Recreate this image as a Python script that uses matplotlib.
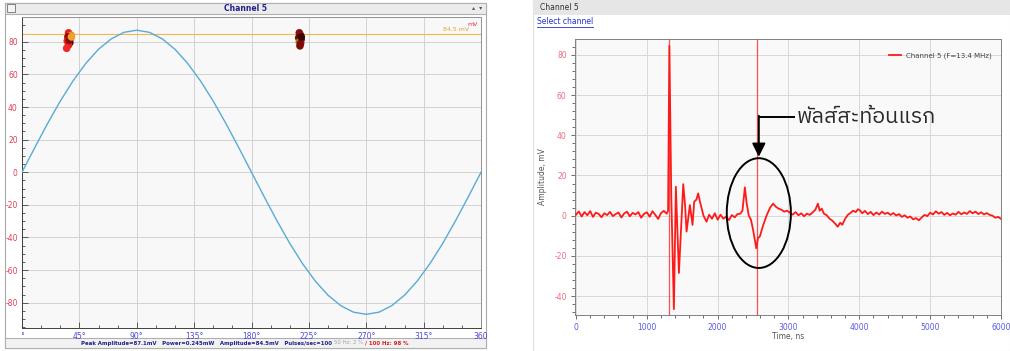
import matplotlib
matplotlib.use('Agg')
import matplotlib.pyplot as plt
from matplotlib import font_manager
from matplotlib.ft2font import FT2Font
from matplotlib.patches import Rectangle, Ellipse
from matplotlib.lines import Line2D
from matplotlib.ticker import MultipleLocator

plt.rcParams['axes.unicode_minus'] = False

# ---------------- left panel : phase sweep ----------------
phase_deg = [0, 10, 20, 30, 40, 50, 60, 70, 80, 90, 100, 110, 120, 130, 140, 150, 160, 170, 180,
             190, 200, 210, 220, 230, 240, 250, 260, 270, 280, 290, 300, 310, 320, 330, 340, 350, 360]
sine_mv = [0.0, 15.1, 29.8, 43.6, 56.0, 66.7, 75.4, 81.8, 85.8, 87.1, 85.8, 81.8, 75.4, 66.7, 56.0, 43.6, 29.8, 15.1, 0.0,
           -15.1, -29.8, -43.6, -56.0, -66.7, -75.4, -81.8, -85.8, -87.1, -85.8, -81.8, -75.4, -66.7, -56.0, -43.6, -29.8, -15.1, 0.0]
level_mv = 84.5

dots_deg = [36.5, 38.5, 36.0, 38.0, 35.5, 37.5, 36.5, 35.0, 37.0, 38.8,
            217.5, 218.5, 217.0, 219.0, 217.5, 218.5, 218.0, 219.0]
dots_mv = [85.5, 84.0, 83.0, 82.0, 80.5, 79.5, 78.0, 76.0, 81.0, 83.0,
           85.5, 84.0, 82.5, 81.5, 80.0, 79.0, 77.5, 83.0]
dots_col = ['#e82020', '#f08a20', '#8b0a0a', '#e02020', '#e82020', '#3a0505', '#e02020', '#f02828', '#8b0a0a', '#f0a030',
            '#8b0a0a', '#900c0c', '#7a0808', '#8b0a0a', '#7a8a20', '#8b0a0a', '#800808', '#3a0505']

x1_ticks = [0, 45, 90, 135, 180, 225, 270, 315, 360]
x1_labels = ['°', '45°', '90°', '135°', '180°', '225°', '270°', '315°', '360']

# ---------------- right panel : echo signal ----------------
t_base = list(range(0, 1320, 40))
a_base = [0.5, 2.1, -0.4, 1.8, 0.2, 2.3, -0.6, 1.5, 0.9, -0.8, 1.2, 0.3, 1.9, -0.2, 0.8, 1.6, -0.9,
          1.1, 2.0, -0.3, 1.4, 0.6, 1.8, -1.0, 0.9, 1.7, -0.5, 2.2, 0.4, -1.6, 1.3, 2.4, 1.0]
t_pulse = [1300, 1318, 1345, 1382, 1410, 1453, 1514, 1540, 1561, 1608, 1645, 1669, 1700, 1725, 1750,
           1773, 1800, 1843, 1880, 1920, 1960, 2000, 2040, 2080, 2120, 2160, 2200, 2240, 2280, 2320,
           2350, 2384, 2410, 2440, 2470, 2500, 2530, 2545, 2570, 2595, 2640, 2690, 2740, 2783, 2820,
           2860, 2900, 2940, 2980]
a_pulse = [2.5, 84.5, 10.0, -46.5, 14.4, -28.5, 15.7, 5.0, -7.9, 5.3, -4.6, 7.0, 8.0, 11.1, 7.0,
           3.7, 0.0, -3.0, 0.5, -1.5, 1.2, -2.0, 0.5, -1.5, -0.5, -2.2, 0.3, -0.8, 0.8, 1.0,
           2.5, 14.1, 6.0, 0.0, -2.0, -7.0, -13.0, -16.2, -11.0, -10.4, -5.0, 0.0, 4.0, 6.0, 4.5,
           3.5, 3.0, 2.0, 2.5]
t_tail = [3020, 3060, 3100, 3140, 3180, 3220, 3260, 3300, 3340, 3380, 3415, 3440, 3470, 3500, 3540,
          3580, 3620, 3660, 3695, 3730, 3760, 3800, 3840, 3880, 3911, 3950, 3980, 4005] + list(range(4040, 6001, 40))
a_tail = [1.5, 0.5, 1.8, 0.2, 1.2, -0.3, 1.0, 0.4, 1.6, 3.0, 6.0, 2.5, 3.5, 1.0, 0.2,
          -1.5, -2.5, -4.0, -5.5, -3.5, -4.5, -1.5, 0.5, 1.5, 2.5, 1.8, 3.2, 2.8,
          1.2, 2.4, 0.8, 1.9, 0.3, 1.6, 0.6, 2.0, 0.9, 1.5, 0.4, 1.3, 0.1, 0.8, -0.6, 0.2, -1.0,
          -0.4, -1.8, -1.2, -2.3, -0.9, 0.4, -0.2, 1.5, 0.6, 2.2, 1.0, 1.8, 0.4, 1.4, 0.2, 1.1,
          0.5, 1.9, 0.7, 1.6, 0.9, 2.3, 1.2, 2.0, 0.8, 1.7, 0.6, 1.3, 0.4, 0.0, -1.0, -0.6, -1.6]
time_ns = t_base + t_pulse + t_tail
amp_mv = a_base + a_pulse + a_tail
cursor_ns = [1316, 2553]

note_text = 'พัลส์สะท้อนแรก'

# font that has Thai glyphs
thai_font = 'DejaVu Sans'
for f in font_manager.fontManager.ttflist:
    try:
        if FT2Font(f.fname).get_char_index(0x0E1E):
            thai_font = f.name
            if 'Thai' in f.name:
                break
    except Exception:
        pass

W, H = 1010, 351
fig = plt.figure(figsize=(W / 100, H / 100), dpi=100)


def box(x0, y0, x1, y1, fc, ec='none', lw=0.8, z=-2):
    fig.add_artist(Rectangle((x0 / W, 1 - y1 / H), (x1 - x0) / W, (y1 - y0) / H,
                             transform=fig.transFigure, fc=fc, ec=ec, lw=lw, zorder=z))


# left window chrome
box(5, 3, 486, 348, '#ffffff', '#a8a8a8')
box(5, 3, 486, 14, '#ececec', '#b0b0b0')
box(7, 4, 15, 12, '#f4f4f4', '#707070', lw=0.6)
box(5, 338, 486, 348, '#f2f2f2', '#b0b0b0')
fig.text(245 / W, 1 - 8.5 / H, 'Channel 5', color='#20208a', fontsize=5.5, fontweight='bold', ha='center', va='center')
fig.text(477 / W, 1 - 8.5 / H, '▴  ▾', color='#555555', fontsize=4.5, ha='center', va='center')

ax1 = fig.add_axes([22 / W, 1 - 328 / H, 459 / W, 311 / H])
ax1.set_facecolor('#f8f8f8')
ax1.plot(phase_deg, sine_mv, color='#5aaad8', lw=1.0, zorder=3)
ax1.axhline(level_mv, color='#f0b850', lw=0.8, zorder=2)
ax1.scatter(dots_deg, dots_mv, s=30, c=dots_col, linewidths=0, zorder=4)
ax1.set_xlim(0, 360)
ax1.set_ylim(-95.5, 95.2)
ax1.set_xticks(x1_ticks)
ax1.set_xticklabels(x1_labels)
ax1.set_yticks(range(-80, 81, 20))
ax1.xaxis.set_minor_locator(MultipleLocator(15))
ax1.yaxis.set_minor_locator(MultipleLocator(5))
ax1.tick_params(which='both', direction='in', width=0.6, color='#444444', labelsize=5.5, pad=3)
ax1.tick_params(which='major', length=4)
ax1.tick_params(which='minor', length=2)
ax1.tick_params(axis='x', labelcolor='#4a4ad8')
ax1.tick_params(axis='y', labelcolor='#e0405a')
ax1.grid(True, which='major', color='#d2d2d2', lw=0.7)
ax1.set_axisbelow(True)
for s in ax1.spines.values():
    s.set_color('#909090')
    s.set_linewidth(0.7)
ax1.spines['left'].set_color('#404040')
ax1.spines['bottom'].set_color('#404040')
ax1.text(0.992, 0.985, 'mV', transform=ax1.transAxes, color='#e03040', fontsize=4.5, ha='right', va='top')
ax1.text(0.975, level_mv + 1.2, '84.5 mV', transform=ax1.get_yaxis_transform(), color='#e8a030',
         fontsize=4.5, ha='right', va='bottom')

fig.text(81 / W, 1 - 343 / H, 'Peak Amplitude=87.1mV   Power=0.245mW   Amplitude=84.5mV   Pulses/sec=100',
         color='#20208a', fontsize=3.9, fontweight='bold', ha='left', va='center')
fig.text(334 / W, 1 - 343 / H, '50 Hz: 2 %', color='#a0a0b0', fontsize=3.9, ha='left', va='center')
fig.text(365 / W, 1 - 343 / H, '/ 100 Hz: 98 %', color='#d02020', fontsize=3.9, fontweight='bold', ha='left', va='center')

# right window chrome
box(533, 0, 1010, 351, '#ffffff', '#e0e0e0')
box(533, 0, 1010, 15, '#e6e6e6', 'none')
fig.text(540 / W, 1 - 8 / H, 'Channel 5', color='#303030', fontsize=5.5, ha='left', va='center')
fig.text(537 / W, 1 - 22 / H, 'Select channel', color='#2030d0', fontsize=5.5, ha='left', va='center')
fig.add_artist(Line2D([537 / W, 593 / W], [1 - 26.5 / H, 1 - 26.5 / H], color='#2030d0', lw=0.6,
                      transform=fig.transFigure))

ax2 = fig.add_axes([575 / W, 1 - 315 / H, 426 / W, 276 / H])
ax2.set_facecolor('#f9f9f9')
for c in cursor_ns:
    ax2.axvline(c, color='#ff3030', lw=0.9, alpha=0.85, zorder=2)
ax2.plot(time_ns, amp_mv, color='#ff1a1a', lw=1.3, zorder=3, label='Channel 5 (F=13.4 MHz)')
ax2.set_xlim(-14, 6000)
ax2.set_ylim(-49.4, 87.9)
ax2.set_xticks(range(0, 6001, 1000))
ax2.set_yticks(range(-40, 81, 20))
ax2.xaxis.set_minor_locator(MultipleLocator(200))
ax2.yaxis.set_minor_locator(MultipleLocator(4))
ax2.tick_params(which='both', direction='out', width=0.6, color='#555555', labelsize=5.5, pad=3)
ax2.tick_params(which='major', length=3)
ax2.tick_params(which='minor', length=2)
ax2.tick_params(axis='x', labelcolor='#5a5ae8')
ax2.tick_params(axis='y', labelcolor='#ee6a80')
ax2.grid(True, which='major', color='#d8d8d8', lw=0.7)
ax2.set_axisbelow(True)
for s in ax2.spines.values():
    s.set_color('#808080')
    s.set_linewidth(0.7)
ax2.set_xlabel('Time, ns', fontsize=5.5, color='#555555', labelpad=0)
ax2.set_ylabel('Amplitude, mV', fontsize=5.5, color='#555555', labelpad=5)
ax2.legend(loc='upper right', frameon=False, fontsize=5, handlelength=1.6,
           bbox_to_anchor=(0.985, 0.96), borderaxespad=0, labelcolor='#444444')

# annotation: ellipse + arrow + Thai label
ax2.add_patch(Ellipse((2581, 1.3), 905, 54.6, fill=False, ec='black', lw=1.4, zorder=5))
ax2.plot([3089, 2581], [49, 49], color='black', lw=1.4, zorder=5, solid_capstyle='butt')
ax2.annotate('', xy=(2581, 29.3), xytext=(2581, 49.7),
             arrowprops=dict(arrowstyle='-|>,head_length=0.8,head_width=0.4', color='black', lw=1.4,
                             shrinkA=0, shrinkB=0), zorder=5)
ax2.text(3117, 46.0, note_text, fontsize=15.5, family=[thai_font, 'DejaVu Sans'], color='#2a2a2a',
         ha='left', va='baseline', zorder=6)

fig.savefig('out.png', dpi=100)
